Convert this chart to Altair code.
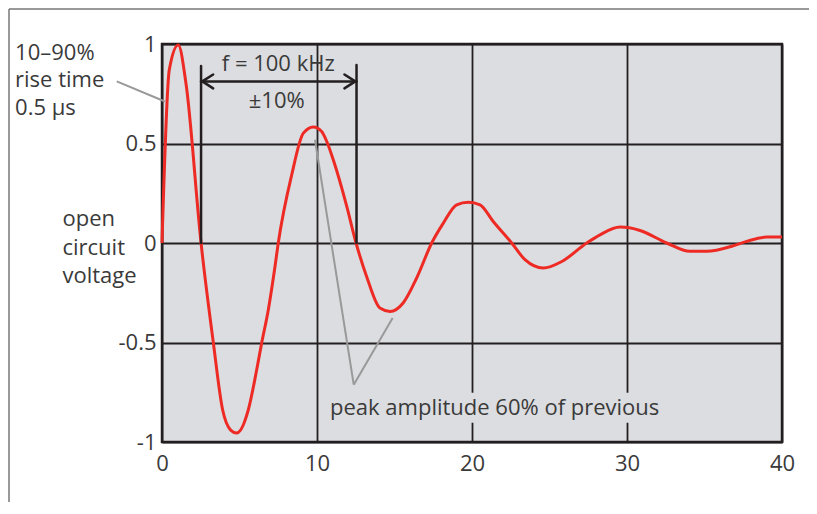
import altair as alt
import pandas as pd

# ---- waveform (time in µs, normalised open-circuit voltage) ----
t = [0, 0.47, 1.05, 1.55, 2.52, 3.31, 3.91, 4.43, 4.82, 5.57, 6.11, 6.43, 6.86, 7.29, 7.5,
     8.37, 9.12, 9.76, 10.3, 10.63, 11.05, 11.92, 12.52, 13.2, 14.06, 14.71, 15.57, 16.43,
     17.4, 18.15, 19.01, 19.76, 20.52, 21.37, 22.56, 23.42, 24.6, 25.79, 27.4, 28.26,
     29.55, 30.84, 32.56, 34.06, 35.14, 36.86, 37.72, 39.01, 40]
v = [0, 0.87, 0.995, 0.80, 0, -0.5, -0.838, -0.94, -0.955, -0.838, -0.637, -0.503, -0.335, -0.118, 0,
     0.343, 0.552, 0.583, 0.56, 0.51, 0.418, 0.184, 0, -0.168, -0.327, -0.344, -0.30, -0.176,
     0, 0.1, 0.192, 0.205, 0.192, 0.108, 0, -0.084, -0.126, -0.093, 0, 0.041,
     0.08, 0.063, 0, -0.042, -0.042, -0.014, 0.008, 0.03, 0.03]

x_ticks = [0, 10, 20, 30, 40]
y_ticks = [-1, -0.5, 0, 0.5, 1]

# ---- annotations (data units) ----
left_text = ["10–90%", "rise time", "0.5 μs", "open", "circuit", "voltage",
             "peak amplitude 60% of previous"]
left_x = [-9.48, -9.48, -9.48, -6.42, -6.42, -6.42, 10.84]
left_y = [0.921, 0.783, 0.644, 0.083, -0.059, -0.201, -0.863]

center_text = ["f = 100 kHz", "±10%"]
center_x = [7.5, 7.4]
center_y = [0.862, 0.678]

blk_x = [2.52, 12.55, 2.52, 2.6, 2.6, 12.47, 12.47]
blk_y = [0, 0, 0.812, 0.812, 0.812, 0.812, 0.812]
blk_x2 = [2.52, 12.55, 12.55, 3.3, 3.3, 11.77, 11.77]
blk_y2 = [0.89, 0.895, 0.812, 0.847, 0.777, 0.847, 0.777]

gray_x = [-2.92, 9.87, 12.37]
gray_y = [0.812, 0.519, -0.712]
gray_x2 = [0.19, 12.37, 14.88]
gray_y2 = [0.711, -0.712, -0.377]

box_x, box_x2, box_y, box_y2 = [10.71], [32.39], [-0.752], [-0.903]

BG = "#dcdde0"
INK = "#231f20"
TXT = "#3a3a3a"
FONT = "Open Sans"
FS = 22
W, H = 620, 398

xs = alt.Scale(domain=[0, 40], nice=False)
ys = alt.Scale(domain=[-1, 1], nice=False)
XAX = alt.Axis(values=x_ticks, grid=True, gridColor=INK, gridWidth=1.8, gridOpacity=1,
               ticks=False, domain=False, labelPadding=11, title=None, format="d",
               labelFlush=False)
YAX = alt.Axis(values=y_ticks, grid=True, gridColor=INK, gridWidth=1.8, gridOpacity=1,
               ticks=False, domain=False, labelPadding=6, title=None, labelFlush=False,
               labelExpr="datum.value < 0 ? '-' + format(-datum.value, '') : format(datum.value, '')")


def xy(xf, yf):
    return dict(x=alt.X(xf, scale=xs, axis=XAX, title=None),
                y=alt.Y(yf, scale=ys, axis=YAX, title=None))


wave = pd.DataFrame({"t": t, "v": v})

line = alt.Chart(wave).mark_line(color="#ee2a24", strokeWidth=3, strokeJoin="round",
                                 interpolate="monotone").encode(**xy("t:Q", "v:Q"))

box = alt.Chart(pd.DataFrame({"x": box_x, "x2": box_x2, "y": box_y, "y2": box_y2})).mark_rect(
    color=BG).encode(**xy("x:Q", "y:Q"), x2="x2:Q", y2="y2:Q")

gray = alt.Chart(pd.DataFrame({"x": gray_x, "y": gray_y, "x2": gray_x2, "y2": gray_y2})).mark_rule(
    color="#999999", strokeWidth=2).encode(**xy("x:Q", "y:Q"), x2="x2:Q", y2="y2:Q")

blk = alt.Chart(pd.DataFrame({"x": blk_x, "y": blk_y, "x2": blk_x2, "y2": blk_y2})).mark_rule(
    color=INK, strokeWidth=2.5, strokeCap="round").encode(**xy("x:Q", "y:Q"), x2="x2:Q", y2="y2:Q")

ltxt = alt.Chart(pd.DataFrame({"x": left_x, "y": left_y, "s": left_text})).mark_text(
    align="left", baseline="alphabetic", font=FONT, fontSize=FS, color=TXT).encode(
    **xy("x:Q", "y:Q"), text="s:N")

ctxt = alt.Chart(pd.DataFrame({"x": center_x, "y": center_y, "s": center_text})).mark_text(
    align="center", baseline="alphabetic", font=FONT, fontSize=FS, color=TXT).encode(
    **xy("x:Q", "y:Q"), text="s:N")

one = pd.DataFrame({"k": [0]})
frame_top = alt.Chart(one).mark_rule(color="#777777", strokeWidth=1.5).encode(
    x=alt.value(-153), x2=alt.value(W + 27), y=alt.value(-35))
frame_left = alt.Chart(one).mark_rule(color="#777777", strokeWidth=1.5).encode(
    x=alt.value(-153), y=alt.value(-35), y2=alt.value(H + 60))

chart = alt.layer(line, box, gray, blk, ltxt, ctxt, frame_top, frame_left).properties(
    width=W, height=H,
    autosize=alt.AutoSizeParams(type="none"),
    padding={"left": 154, "top": 36, "right": 27, "bottom": 60},
    background="white",
).configure_view(
    fill=BG, stroke=INK, strokeWidth=2.5
).configure_axis(
    labelFont=FONT, labelFontSize=FS, labelColor=TXT
)

chart.save("out.html", embed_options={"renderer": "svg", "actions": False})
